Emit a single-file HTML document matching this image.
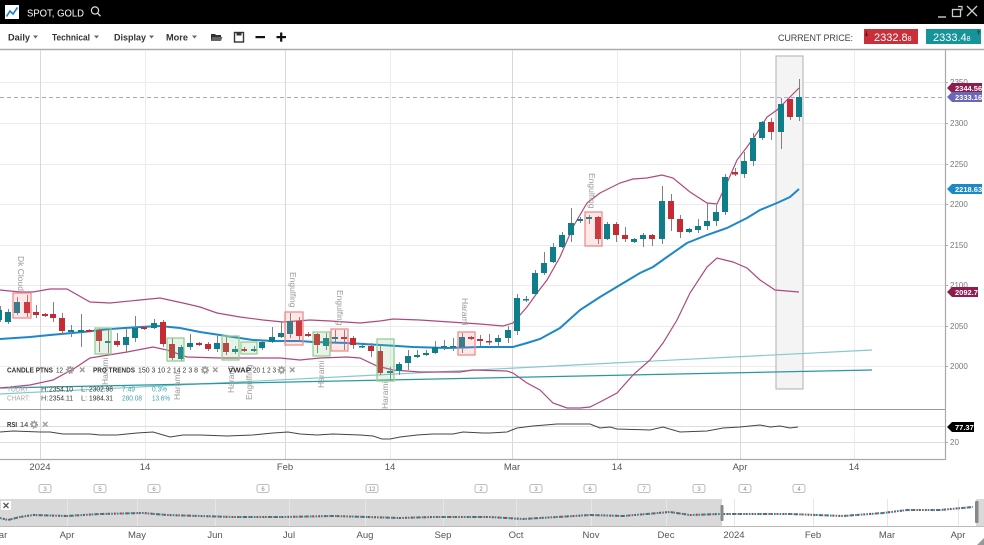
<!DOCTYPE html>
<html><head><meta charset="utf-8"><style>
html,body{margin:0;padding:0;background:#fff;}
svg{display:block;}
text{font-family:"Liberation Sans","DejaVu Sans",sans-serif;}
</style></head><body>
<svg width="984" height="545" viewBox="0 0 984 545" xmlns="http://www.w3.org/2000/svg">
<!-- top bar -->
<rect x="0" y="0" width="984" height="24" fill="#000"/>
<rect x="5" y="5" width="14" height="14" fill="#fff"/>
<polyline points="6.5,16.5 10,11 13,14 17.5,7.5" fill="none" stroke="#1a7fd0" stroke-width="1.6"/>
<text x="27" y="16.5" fill="#fff" font-size="10.5" textLength="57" lengthAdjust="spacingAndGlyphs">SPOT, GOLD</text>
<circle cx="95" cy="10.5" r="3.6" fill="none" stroke="#ddd" stroke-width="1.2"/>
<line x1="97.6" y1="13.2" x2="100.5" y2="16.2" stroke="#ddd" stroke-width="1.3"/>
<line x1="938" y1="17" x2="946" y2="17" stroke="#ccc" stroke-width="1.4"/>
<rect x="952.5" y="9.5" width="8" height="7" fill="none" stroke="#ccc" stroke-width="1.3"/>
<path d="M958 6.5h4v4" fill="none" stroke="#ccc" stroke-width="1.2"/>
<path d="M967 6L977 16M977 6L967 16" stroke="#ccc" stroke-width="1.3"/>
<!-- toolbar -->
<rect x="0" y="24" width="984" height="25" fill="#fff"/>
<g font-size="9.5" font-weight="bold" fill="#333">
<text x="8" y="40.5" textLength="22" lengthAdjust="spacingAndGlyphs">Daily</text>
<text x="52" y="40.5" textLength="38" lengthAdjust="spacingAndGlyphs">Technical</text>
<text x="114" y="40.5" textLength="32" lengthAdjust="spacingAndGlyphs">Display</text>
<text x="166" y="40.5" textLength="22" lengthAdjust="spacingAndGlyphs">More</text>
</g>
<g fill="#666">
<path d="M33 35.5h5l-2.5 3z"/><path d="M94 35.5h5l-2.5 3z"/><path d="M149 35.5h5l-2.5 3z"/><path d="M192 35.5h5l-2.5 3z"/>
</g>
<path d="M211 34h4l1 1h5v6h-10z" fill="#333"/><path d="M212.5 37h10l-1.5 4h-10z" fill="#666"/>
<rect x="234.5" y="32.5" width="9" height="9.5" fill="none" stroke="#333" stroke-width="1.4"/>
<rect x="236.5" y="32.5" width="5" height="3" fill="#333"/>
<rect x="255.5" y="36" width="9.5" height="2.2" fill="#111"/>
<rect x="276.5" y="36" width="9.5" height="2.2" fill="#111"/><rect x="280.1" y="32.5" width="2.2" height="9.2" fill="#111"/>
<text x="778" y="41" font-size="9" fill="#444" textLength="75" lengthAdjust="spacing">CURRENT PRICE:</text>
<rect x="864" y="29" width="54" height="15" fill="#c8313a"/>
<path d="M866.5 31v4M865 34l1.5 2 1.5-2" stroke="#7a1116" fill="none" stroke-width="1"/>
<text x="874" y="41" font-size="11" fill="#fff">2332.8<tspan font-size="7">8</tspan></text>
<rect x="926" y="29" width="55" height="15" fill="#17939a"/>
<path d="M978.5 31v4M977 32.5l1.5-2 1.5 2" stroke="#0b5a5e" fill="none" stroke-width="1"/>
<text x="933" y="41" font-size="11" fill="#fff">2333.4<tspan font-size="7">8</tspan></text>
<line x1="0" y1="49.5" x2="984" y2="49.5" stroke="#aaa" stroke-width="1.5"/>
<!-- grid -->
<g stroke="#ececec" stroke-width="1">
<line x1="0" y1="82.5" x2="945" y2="82.5"/><line x1="0" y1="123.5" x2="945" y2="123.5"/><line x1="0" y1="164.5" x2="945" y2="164.5"/><line x1="0" y1="204.5" x2="945" y2="204.5"/><line x1="0" y1="245.5" x2="945" y2="245.5"/><line x1="0" y1="285.5" x2="945" y2="285.5"/><line x1="0" y1="326.5" x2="945" y2="326.5"/><line x1="0" y1="366.5" x2="945" y2="366.5"/>
<line x1="145.5" y1="50" x2="145.5" y2="459"/><line x1="390.5" y1="50" x2="390.5" y2="459"/><line x1="617.5" y1="50" x2="617.5" y2="459"/><line x1="854.5" y1="50" x2="854.5" y2="459"/>
</g>
<g stroke="#d8d8d8" stroke-width="1">
<line x1="40.5" y1="50" x2="40.5" y2="459"/><line x1="285.5" y1="50" x2="285.5" y2="459"/><line x1="512.5" y1="50" x2="512.5" y2="459"/><line x1="740.5" y1="50" x2="740.5" y2="459"/>
</g>
<!-- highlight box -->
<rect x="776" y="56" width="27" height="333" fill="#f4f4f4" stroke="#bcbcbc" stroke-width="1.2"/>
<!-- current price dashed -->
<line x1="0" y1="97.5" x2="945" y2="97.5" stroke="#a9a2e6" stroke-width="1" stroke-dasharray="4 3"/>
<!-- pro trend lines -->
<line x1="0" y1="394" x2="872" y2="350" stroke="#86c9cc" stroke-width="1.2"/>
<line x1="0" y1="388" x2="872" y2="370" stroke="#2a97a0" stroke-width="1.2"/>
<!-- bollinger -->
<polyline fill="none" stroke="#b0487c" stroke-width="1.2" points="0,290 20,292 33,292 50,289 67,289 90,302 110,303 140,300 160,298 183,303 200,307 217,313 240,317 263,320 283,322 310,320 330,321 360,323 380,321 393,319 420,320 450,322 480,324 503,326 513,323 527,307 537,293 547,280 560,257 573,227 587,203 600,193 620,183 633,179 647,178 662,175 673,178 690,192 707,203 717,204 727,183 737,160 747,147 757,133 767,117 777,110 787,100 799,88"/>
<polyline fill="none" stroke="#b0487c" stroke-width="1.2" points="0,388 30,385 53,380 75,368 90,358 127,352 153,347 167,350 187,357 220,358 253,358 280,358 300,360 320,358 347,357 360,358 377,366 393,370 420,372 460,372 473,370 507,371 513,373 527,383 540,390 553,403 567,408 580,408 590,407 600,402 617,393 633,375 650,360 663,343 677,320 690,293 707,267 717,258 733,262 747,268 760,280 775,290 799,292"/>
<polyline fill="none" stroke="#1c87c9" stroke-width="2" points="0,339 30,337 50,335 83,332 110,329 140,327 160,326 180,328 200,332 233,337 253,340 273,341 300,341 313,342 347,343 380,345 413,347 447,348 480,347 513,347 527,343 540,339 560,328 580,310 600,297 620,285 640,273 653,267 667,257 687,243 707,235 727,228 747,218 760,210 777,203 790,197 799,189"/>
<!-- wicks -->
<path stroke="#808080" stroke-width="1" fill="none" d="M0.5 306V322M8.5 309V324M17.5 297V315M27.5 295V317M36.5 305V318M45.5 313V317M53.5 302V322M62.5 313V335M71.5 325V337M81.5 314V347M89.5 329V332M99.5 328V352M108.5 330V353M117.5 333V347M126.5 328V353M135.5 316V342M144.5 326V330M154.5 319V329M163.5 320V347M172.5 338V360M181.5 345V361M190.5 334V350M199.5 342V346M208.5 342V351M217.5 336V352M226.5 337V355M235.5 346V354M244.5 347V352M254.5 346V352M262.5 340V350M272.5 327V343M281.5 322V338M290.5 313V338M299.5 317V342M308.5 332V337M317.5 333V353M326.5 333V350M335.5 330V342M344.5 330V350M353.5 336V349M362.5 345V348M371.5 343V357M380.5 345V375M390.5 367V380M399.5 362V375M408.5 350V370M417.5 350V358M426.5 350V356M435.5 341V354M444.5 340V350M453.5 338V351M462.5 333V353M471.5 336V340M480.5 335V346M489.5 334V345M498.5 335V347M508.5 326V343M517.5 294V335M526.5 296V302M535.5 270V296M544.5 252V275M553.5 243V263M562.5 232V248M571.5 208V242M580.5 217V223M589.5 215V224M598.5 216V244M607.5 222V240M616.5 222V242M625.5 227V242M634.5 238V243M643.5 233V247M652.5 234V246M662.5 186V244M671.5 194V231M680.5 215V238M689.5 228V233M698.5 219V233M707.5 203V230M716.5 205V226M725.5 174V215M735.5 168V176M744.5 152V178M753.5 133V166M762.5 121V140M771.5 118V140M781.5 98V149M790.5 99V120M799.5 79V121"/>
<!-- teal bodies -->
<path fill="#0f7e8b" d="M-3 310h5v10h-5zM5 312h6v10h-6zM14 302h6v11h-6zM68 330h6v2h-6zM78 330h6v2h-6zM105 341h6v2h-6zM123 337h6v8h-6zM132 328h6v10h-6zM151 323h6v5h-6zM178 347h6v12h-6zM187 343h6v4h-6zM214 343h6v6h-6zM232 349h6v3h-6zM251 349h6v2h-6zM259 342h6v6h-6zM269 337h6v5h-6zM278 333h6v4h-6zM287 321h6v13h-6zM323 338h6v8h-6zM332 337h6v2h-6zM359 346h6v1.5h-6zM387 371h6v2h-6zM396 364h6v7h-6zM405 356h6v7h-6zM414 355h6v2h-6zM423 353h6v2h-6zM432 347h6v6h-6zM441 346h6v1.5h-6zM450 346h6v1.5h-6zM459 337h6v10h-6zM495 338h6v4h-6zM505 330h6v8h-6zM514 298h6v33h-6zM523 299h6v1.5h-6zM532 273h6v21h-6zM541 263h6v10h-6zM550 247h6v15h-6zM559 235h6v12h-6zM568 223h6v12h-6zM577 219h6v2h-6zM586 217h6v2h-6zM604 224h6v15h-6zM631 239h6v3h-6zM640 235h6v4h-6zM659 201h6v38h-6zM686 229h6v3h-6zM695 226h6v4h-6zM704 221h6v5h-6zM713 212h6v9h-6zM722 177h6v35h-6zM741 161h6v13h-6zM750 138h6v23h-6zM759 122h6v16h-6zM778 104h6v28h-6zM796 97h6v20h-6z"/>
<!-- red bodies -->
<path fill="#c62a33" d="M24 302h6v11h-6zM33 312h6v3h-6zM42 314h6v2h-6zM50 314h6v4h-6zM59 318h6v13h-6zM86 330h6v2h-6zM96 330h6v11h-6zM114 341h6v4h-6zM141 327h6v2h-6zM160 322h6v22h-6zM169 344h6v14h-6zM196 343h6v2h-6zM205 344h6v5h-6zM223 343h6v9h-6zM241 349h6v2h-6zM296 321h6v15h-6zM305 334h6v2h-6zM314 334h6v11h-6zM341 337h6v2h-6zM350 338h6v7h-6zM368 346h6v5h-6zM377 351h6v22h-6zM468 337h6v2h-6zM477 339h6v2h-6zM486 341h6v1.5h-6zM595 217h6v22h-6zM613 224h6v11h-6zM622 235h6v4h-6zM649 235h6v4h-6zM668 201h6v18h-6zM677 219h6v13h-6zM732 172h6v2.5h-6zM768 122h6v10h-6zM787 99h6v18h-6z"/>
<!-- pattern boxes -->
<g fill="rgba(245,120,120,0.18)" stroke="#f08c8c" stroke-width="1.3">
<rect x="13" y="293" width="18" height="25"/><rect x="285" y="312" width="18" height="33"/><rect x="331" y="329" width="17" height="22"/><rect x="458" y="332" width="17" height="23"/><rect x="585" y="212" width="17" height="34"/>
</g>
<g fill="rgba(130,195,130,0.2)" stroke="#95cf95" stroke-width="1.3">
<rect x="95" y="328" width="16" height="26"/><rect x="167" y="338" width="17" height="23"/><rect x="222" y="336" width="17" height="24"/><rect x="241" y="342" width="16" height="12"/><rect x="313" y="332" width="17" height="24"/><rect x="377" y="339" width="17" height="42"/>
</g>
<!-- pattern labels -->
<g font-size="8.5" fill="#999">
<text transform="translate(18,256) rotate(90)">Dk Cloud</text>
<text transform="translate(290,272) rotate(90)">Engulfing</text>
<text transform="translate(337,290) rotate(90)">Engulfing</text>
<text transform="translate(462,298) rotate(90)">Harami</text>
<text transform="translate(589,173) rotate(90)">Engulfing</text>
<text transform="translate(108,385) rotate(-90)">Harami</text>
<text transform="translate(180,400) rotate(-90)">Harami</text>
<text transform="translate(234,393) rotate(-90)">Harami</text>
<text transform="translate(252,400) rotate(-90)">Engulfing</text>
<text transform="translate(324,388) rotate(-90)">Harami</text>
<text transform="translate(388,409) rotate(-90)">Harami</text>
</g>
<!-- legend -->
<g font-size="7.5" fill="#333">
<text x="7" y="372.5" font-weight="bold" textLength="46" lengthAdjust="spacingAndGlyphs">CANDLE PTNS</text>
<text x="56" y="372.5" textLength="7" lengthAdjust="spacingAndGlyphs">12</text>
<text x="93" y="372.5" font-weight="bold" textLength="42" lengthAdjust="spacingAndGlyphs">PRO TRENDS</text>
<text x="138" y="372.5" textLength="60" lengthAdjust="spacingAndGlyphs">150 3 10 2 14 2 3 8</text>
<text x="228" y="372.5" font-weight="bold" textLength="23" lengthAdjust="spacingAndGlyphs">VWAP</text>
<text x="253" y="372.5" textLength="23" lengthAdjust="spacingAndGlyphs">20 1 2 3</text>
</g>
<g fill="none" stroke="#999">
<circle cx="70" cy="370" r="2.2" stroke-width="1.6"/><circle cx="70" cy="370" r="3.4" stroke-width="1.4" stroke-dasharray="1.3 1.3"/>
<circle cx="205" cy="370" r="2.2" stroke-width="1.6"/><circle cx="205" cy="370" r="3.4" stroke-width="1.4" stroke-dasharray="1.3 1.3"/>
<circle cx="281.5" cy="370" r="2.2" stroke-width="1.6"/><circle cx="281.5" cy="370" r="3.4" stroke-width="1.4" stroke-dasharray="1.3 1.3"/>
<path stroke-width="1.3" d="M80 367.5l4.5 4.5M84.5 367.5l-4.5 4.5M213 367.5l4.5 4.5M217.5 367.5l-4.5 4.5M290 367.5l4.5 4.5M294.5 367.5l-4.5 4.5"/>
</g>
<g font-size="7.5">
<text x="7" y="391.5" fill="#aaa" textLength="23" lengthAdjust="spacingAndGlyphs">TODAY:</text>
<text x="41" y="391.5" fill="#555">H:</text><text x="49" y="391.5" fill="#333" textLength="24" lengthAdjust="spacingAndGlyphs">2354.10</text>
<text x="81" y="391.5" fill="#555">L:</text><text x="89" y="391.5" fill="#333" textLength="24" lengthAdjust="spacingAndGlyphs">2302.98</text>
<text x="122" y="391.5" fill="#3a9fae" textLength="13" lengthAdjust="spacingAndGlyphs">7.49</text>
<text x="152" y="391.5" fill="#3a9fae" textLength="15" lengthAdjust="spacingAndGlyphs">0.3%</text>
<text x="7" y="400.5" fill="#aaa" textLength="23" lengthAdjust="spacingAndGlyphs">CHART:</text>
<text x="41" y="400.5" fill="#555">H:</text><text x="49" y="400.5" fill="#333" textLength="24" lengthAdjust="spacingAndGlyphs">2354.11</text>
<text x="81" y="400.5" fill="#555">L:</text><text x="89" y="400.5" fill="#333" textLength="24" lengthAdjust="spacingAndGlyphs">1984.31</text>
<text x="122" y="400.5" fill="#3a9fae" textLength="20" lengthAdjust="spacingAndGlyphs">280.08</text>
<text x="152" y="400.5" fill="#3a9fae" textLength="18" lengthAdjust="spacingAndGlyphs">13.6%</text>
</g>
<!-- panel lines -->
<line x1="0" y1="409.5" x2="945" y2="409.5" stroke="#999" stroke-width="1"/>
<line x1="0" y1="426.5" x2="945" y2="426.5" stroke="#dedede"/>
<line x1="0" y1="442.5" x2="945" y2="442.5" stroke="#dedede"/>
<line x1="0" y1="459.5" x2="945" y2="459.5" stroke="#aaa" stroke-width="1.2"/>
<line x1="945.5" y1="50" x2="945.5" y2="460" stroke="#aaa" stroke-width="1.2"/>
<!-- RSI -->
<text x="7" y="427" font-size="7.5" font-weight="bold" fill="#333" textLength="10" lengthAdjust="spacingAndGlyphs">RSI</text>
<text x="20" y="427" font-size="7.5" fill="#333">14</text>
<circle cx="34" cy="424.5" r="2.2" fill="none" stroke="#999" stroke-width="1.6"/><circle cx="34" cy="424.5" r="3.4" fill="none" stroke="#999" stroke-width="1.4" stroke-dasharray="1.3 1.3"/>
<path d="M43 422l4.5 4.5M47.5 422l-4.5 4.5" stroke="#999" stroke-width="1.3"/>
<polyline fill="none" stroke="#444" stroke-width="1" points="0,432 13,431 40,432 50,432 63,434 90,434 100,435 117,435 137,433 153,432 170,437 183,435 200,435 227,436 253,435 273,433 288,432 300,434 317,435 333,434 360,435 373,436 382,439 390,439 400,437 417,435 433,434 453,434 463,432 483,433 490,433 507,432 517,428 533,426 557,424 590,424 600,428 610,427 617,429 650,430 663,427 680,432 707,431 723,428 740,427 760,425 770,427 780,426 790,428 798,427"/>
<!-- y axis ticks -->
<g stroke="#aaa"><path d="M945 82.5h3M945 123.5h3M945 164.5h3M945 204.5h3M945 245.5h3M945 285.5h3M945 326.5h3M945 366.5h3M945 442.5h3"/></g>
<g font-size="8" fill="#777">
<text x="950" y="85">2350</text><text x="950" y="126">2300</text><text x="950" y="167">2250</text><text x="950" y="207">2200</text><text x="950" y="248">2150</text><text x="950" y="288">2100</text><text x="950" y="329">2050</text><text x="950" y="369">2000</text><text x="950" y="445">20</text>
</g>
<!-- axis value labels -->
<path d="M947 88l5-5h30v10h-30z" fill="#8e1c4f"/><text x="955" y="91" font-size="7.5" font-weight="bold" fill="#fff">2344.56</text>
<path d="M947 97l5-5h30v10h-30z" fill="#6a68b5"/><text x="955" y="100" font-size="7.5" font-weight="bold" fill="#fff">2333.16</text>
<path d="M947 189l5-5h30v10h-30z" fill="#1b88c8"/><text x="955" y="192" font-size="7.5" font-weight="bold" fill="#fff">2218.63</text>
<path d="M947 292l5-5h26v10h-26z" fill="#8e1c4f"/><text x="955" y="295" font-size="7.5" font-weight="bold" fill="#fff">2092.7</text>
<path d="M947 427l5-5h22v10h-22z" fill="#000"/><text x="955" y="430" font-size="7.5" font-weight="bold" fill="#fff">77.37</text>
<!-- x labels -->
<g font-size="9.5" fill="#555" text-anchor="middle">
<text x="40" y="470">2024</text><text x="145" y="470">14</text><text x="285" y="470">Feb</text><text x="390" y="470">14</text><text x="512" y="470">Mar</text><text x="617" y="470">14</text><text x="740" y="470">Apr</text><text x="854" y="470">14</text>
</g>
<!-- event markers -->
<g fill="#fff" stroke="#aaa" stroke-width="0.8">
<rect x="39" y="484.5" width="12" height="8" rx="2"/><rect x="94" y="484.5" width="12" height="8" rx="2"/><rect x="148" y="484.5" width="12" height="8" rx="2"/><rect x="257" y="484.5" width="12" height="8" rx="2"/><rect x="366" y="484.5" width="12" height="8" rx="2"/><rect x="475" y="484.5" width="12" height="8" rx="2"/><rect x="530" y="484.5" width="12" height="8" rx="2"/><rect x="584" y="484.5" width="12" height="8" rx="2"/><rect x="638" y="484.5" width="12" height="8" rx="2"/><rect x="693" y="484.5" width="12" height="8" rx="2"/><rect x="739" y="484.5" width="12" height="8" rx="2"/><rect x="793" y="484.5" width="12" height="8" rx="2"/>
</g>
<g font-size="6" fill="#888" text-anchor="middle">
<text x="45" y="491">3</text><text x="100" y="491">5</text><text x="154" y="491">6</text><text x="263" y="491">6</text><text x="372" y="491">12</text><text x="481" y="491">2</text><text x="536" y="491">3</text><text x="590" y="491">6</text><text x="644" y="491">7</text><text x="699" y="491">3</text><text x="745" y="491">4</text><text x="799" y="491">4</text>
</g>
<!-- navigator -->
<rect x="0" y="499" width="984" height="27" fill="#d9d9d9"/>
<rect x="722" y="499" width="254" height="27" fill="#fff"/>
<g stroke="#e6e6e6" stroke-width="1">
<line x1="67.5" y1="499" x2="67.5" y2="526"/><line x1="137.5" y1="499" x2="137.5" y2="526"/><line x1="215.5" y1="499" x2="215.5" y2="526"/><line x1="289.5" y1="499" x2="289.5" y2="526"/><line x1="365.5" y1="499" x2="365.5" y2="526"/><line x1="443.5" y1="499" x2="443.5" y2="526"/><line x1="516.5" y1="499" x2="516.5" y2="526"/><line x1="591.5" y1="499" x2="591.5" y2="526"/><line x1="666.5" y1="499" x2="666.5" y2="526"/><line x1="734.5" y1="499" x2="734.5" y2="526"/><line x1="813.5" y1="499" x2="813.5" y2="526"/><line x1="887.5" y1="499" x2="887.5" y2="526"/><line x1="958.5" y1="499" x2="958.5" y2="526"/>
</g>
<line x1="0" y1="526.5" x2="984" y2="526.5" stroke="#bbb"/>
<polyline fill="none" stroke="#1a8f98" stroke-width="2" stroke-dasharray="1.7 1.1" points="0,518 8,520 20,517 33,515 67,516 100,514 143,513 167,515 200,516 233,517 283,517 333,516 367,517 400,518 433,517 490,517 523,519 557,517 590,515 623,516 670,512 690,515 720,514 757,514 790,514 843,516 883,513 907,510 940,510 973,507"/>
<polyline fill="none" stroke="#c9343c" stroke-width="2" stroke-dasharray="1.7 4.5" stroke-dashoffset="3" points="0,518 8,520 20,517 33,515 67,516 100,514 143,513 167,515 200,516 233,517 283,517 333,516 367,517 400,518 433,517 490,517 523,519 557,517 590,515 623,516 670,512 690,515 720,514 757,514 790,514 843,516 883,513 907,510 940,510 973,507"/>
<rect x="720.5" y="505" width="3" height="16" rx="1" fill="#888"/>
<rect x="975" y="501" width="3.5" height="22" rx="1" fill="#888"/>
<rect x="1" y="501" width="10" height="9" fill="#fff"/>
<path d="M3.5 503l5 5M8.5 503l-5 5" stroke="#555" stroke-width="1.3"/>
<g font-size="9.5" fill="#555" text-anchor="middle">
<text x="3" y="538">ar</text><text x="67" y="538">Apr</text><text x="137" y="538">May</text><text x="215" y="538">Jun</text><text x="289" y="538">Jul</text><text x="365" y="538">Aug</text><text x="443" y="538">Sep</text><text x="516" y="538">Oct</text><text x="591" y="538">Nov</text><text x="666" y="538">Dec</text><text x="734" y="538">2024</text><text x="813" y="538">Feb</text><text x="887" y="538">Mar</text><text x="958" y="538">Apr</text>
</g>
<path d="M984 538v7h-7z" fill="#999"/>
</svg>
</body></html>
